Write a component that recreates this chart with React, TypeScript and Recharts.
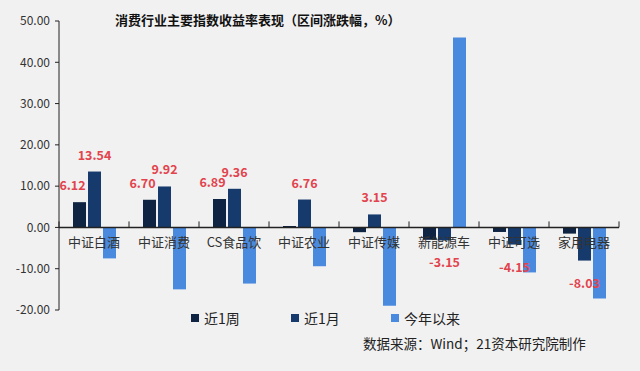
import React from "react";
import {
  Bar,
  BarChart,
  XAxis,
  YAxis,
  Legend,
  LabelList,
  ReferenceLine,
} from "recharts";

const categories = [
  "中证白酒",
  "中证消费",
  "CS食品饮",
  "中证农业",
  "中证传媒",
  "新能源车",
  "中证可选",
  "家用电器",
];
const seriesNames = ["近1周", "近1月", "今年以来"];
const weekValues = [6.12, 6.7, 6.89, 0.35, -1.15, -3.0, -1.1, -1.5];
const monthValues = [13.54, 9.92, 9.36, 6.76, 3.15, -3.15, -4.15, -8.03];
const ytdValues = [-7.5, -15.0, -13.6, -9.4, -19.0, 46.0, -10.9, -17.2];
const weekLabels = [6.12, 6.7, 6.89, null, null, null, null, null];
const monthLabels = [13.54, 9.92, 9.36, 6.76, 3.15, -3.15, -4.15, -8.03];
const yTicks = [-20, -10, 0, 10, 20, 30, 40, 50];

const data = categories.map((name, i) => ({
  name,
  week: weekValues[i],
  month: monthValues[i],
  ytd: ytdValues[i],
}));

const W = 640;
const H = 371;
const M = { top: 21, right: 21, bottom: 31, left: 0 };
const Y_AXIS_W = 59;
const X_AXIS_H = 30;
const Y_MIN = -20;
const Y_MAX = 50;
const PLOT_H = H - M.top - M.bottom - X_AXIS_H;
const PLOT_W = W - M.left - M.right - Y_AXIS_W;
const ZERO_Y = M.top + (PLOT_H * Y_MAX) / (Y_MAX - Y_MIN);
const BAND = PLOT_W / categories.length;

const FONT = "'Noto Sans CJK SC', 'Noto Sans', sans-serif";
const RED = "#e2434d";
const COLORS = { week: "#0e2442", month: "#163a6b", ytd: "#4a8ade" };

const CategoryTick = (props: any) => {
  const { x, payload, index } = props;
  const left = x - BAND / 2;
  const right = x + BAND / 2;
  return (
    <g>
      <line x1={left} x2={left} y1={ZERO_Y - 6} y2={ZERO_Y} stroke="#222" />
      {index === categories.length - 1 && (
        <line x1={right} x2={right} y1={ZERO_Y - 6} y2={ZERO_Y} stroke="#222" />
      )}
      <text
        x={x}
        y={ZERO_Y + 20}
        textAnchor="middle"
        fontSize={13}
        fill="#333"
        fontFamily={FONT}
      >
        {payload.value}
      </text>
    </g>
  );
};

const makeLabel = (labels: (number | null)[], dx: number) => (props: any) => {
  const { x, y, width, height, index } = props;
  const v = labels[index];
  if (v === null || v === undefined) return null;
  const top = Math.min(y, y + height);
  const bottom = Math.max(y, y + height);
  const ty = v >= 0 ? top - 12 : bottom + 27;
  return (
    <text
      x={x + width / 2 + dx}
      y={ty}
      textAnchor="middle"
      fontSize={12.5}
      fontWeight={600}
      fill={RED}
      fontFamily={FONT}
    >
      {v.toFixed(2)}
    </text>
  );
};

const renderLegend = (props: any) => {
  const { payload } = props;
  const items = seriesNames
    .map((n) => payload.find((p: any) => p.value === n))
    .filter(Boolean);
  return (
    <div style={{ display: "flex", fontFamily: FONT, fontSize: 14, color: "#222" }}>
      {items.map((entry: any) => (
        <div
          key={entry.value}
          style={{ width: 100, display: "flex", alignItems: "center" }}
        >
          <span
            style={{
              display: "inline-block",
              width: 8,
              height: 8,
              background: entry.color,
              marginRight: 5,
            }}
          />
          <span>{entry.value}</span>
        </div>
      ))}
    </div>
  );
};

export default function App() {
  return (
    <div
      style={{
        position: "absolute",
        left: 0,
        top: 0,
        width: W,
        height: H,
        background: "#f1f1f1",
        fontFamily: FONT,
      }}
    >
      <div
        style={{
          position: "absolute",
          left: 115,
          top: 10,
          fontSize: 13,
          fontWeight: 700,
          color: "#111",
          whiteSpace: "nowrap",
          zIndex: 2,
        }}
      >
        消费行业主要指数收益率表现（区间涨跌幅，%）
      </div>
      <BarChart
        width={W}
        height={H}
        data={data}
        margin={M}
        barSize={13}
        barGap={2}
      >
        <XAxis
          dataKey="name"
          axisLine={false}
          tickLine={false}
          height={X_AXIS_H}
          interval={0}
          tick={<CategoryTick />}
        />
        <YAxis
          width={Y_AXIS_W}
          domain={[Y_MIN, Y_MAX]}
          ticks={yTicks}
          interval={0}
          axisLine={{ stroke: "#222" }}
          tickLine={{ stroke: "#222" }}
          tickSize={4}
          tickMargin={5}
          tick={{ fontSize: 12, fill: "#333", fontFamily: FONT }}
          tickFormatter={(v: number) => v.toFixed(2)}
        />
        <ReferenceLine y={0} stroke="#222" strokeWidth={1.5} />
        <Legend
          layout="horizontal"
          verticalAlign="middle"
          content={renderLegend}
          wrapperStyle={{ position: "absolute", left: 191, top: 308, width: 320 }}
        />
        <Bar dataKey="week" name="近1周" fill={COLORS.week} isAnimationActive={false}>
          <LabelList content={makeLabel(weekLabels, -7)} />
        </Bar>
        <Bar dataKey="month" name="近1月" fill={COLORS.month} isAnimationActive={false}>
          <LabelList content={makeLabel(monthLabels, 0)} />
        </Bar>
        <Bar dataKey="ytd" name="今年以来" fill={COLORS.ytd} isAnimationActive={false} />
      </BarChart>
      <div
        style={{
          position: "absolute",
          left: 363,
          top: 333,
          fontSize: 13.5,
          color: "#222",
          whiteSpace: "nowrap",
        }}
      >
        数据来源：Wind；21资本研究院制作
      </div>
    </div>
  );
}
